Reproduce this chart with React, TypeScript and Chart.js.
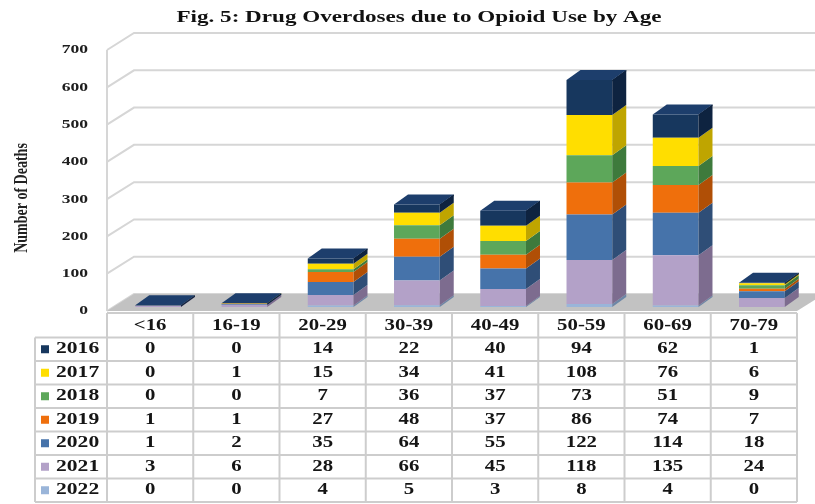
import { useEffect, useRef } from 'react';
import { Chart, registerables } from 'chart.js';

Chart.register(...registerables);

// ---------- data ----------
const CATEGORIES = ['<16', '16-19', '20-29', '30-39', '40-49', '50-59', '60-69', '70-79'];
const YEARS = ['2016', '2017', '2018', '2019', '2020', '2021', '2022'];
const V2016 = [0, 0, 14, 22, 40, 94, 62, 1];
const V2017 = [0, 1, 15, 34, 41, 108, 76, 6];
const V2018 = [0, 0, 7, 36, 37, 73, 51, 9];
const V2019 = [1, 1, 27, 48, 37, 86, 74, 7];
const V2020 = [1, 2, 35, 64, 55, 122, 114, 18];
const V2021 = [3, 6, 28, 66, 45, 118, 135, 24];
const V2022 = [0, 0, 4, 5, 3, 8, 4, 0];
const SERIES = [V2016, V2017, V2018, V2019, V2020, V2021, V2022]; // table row order
const Y_TICKS = [0, 100, 200, 300, 400, 500, 600, 700];
const Y_MAX = 700;
const TITLE = 'Fig. 5: Drug Overdoses due to Opioid Use by Age';
const Y_TITLE = 'Number of Deaths';

// ---------- styles ----------
const FRONT = ['#17375e', '#ffde00', '#5da75a', '#ef6f0c', '#4673aa', '#b3a1c8', '#9ab5d9'];
const SIDE = ['#0e2340', '#bfa500', '#3e7a3c', '#b04f06', '#2f4e77', '#7d6c8f', '#6d86a6'];
const TOP_COLOR = '#1d3e6c';
const FONT = '"Liberation Serif", "Times New Roman", serif';
const W = 815;
const H = 504;

function txt(
  ctx: CanvasRenderingContext2D,
  s: string,
  x: number,
  y: number,
  size: number,
  align: CanvasTextAlign,
  sx: number,
  color = '#151515'
) {
  ctx.save();
  ctx.translate(x, y);
  ctx.scale(sx, 1);
  ctx.font = `bold ${size}px ${FONT}`;
  ctx.fillStyle = color;
  ctx.textAlign = align;
  ctx.textBaseline = 'middle';
  ctx.fillText(s, 0, 0);
  ctx.restore();
}

const DX = 14;
const DY = -10;
const SHIFT_X = 8;
const SHIFT_Y = -4;
const WDX = 27;
const WDY = -17;

const scenePlugin = {
  id: 'scene3d',
  beforeDatasetsDraw(chart: any) {
    const ctx: CanvasRenderingContext2D = chart.ctx;
    const { left: L, right: R } = chart.chartArea;
    const ys = chart.scales.y;
    ctx.save();
    ctx.strokeStyle = '#d6d6d6';
    ctx.lineWidth = 2;
    Y_TICKS.forEach((v) => {
      const y = ys.getPixelForValue(v);
      ctx.beginPath();
      ctx.moveTo(L, y);
      ctx.lineTo(L + WDX, y + WDY);
      ctx.lineTo(W, y + WDY);
      ctx.stroke();
    });
    ctx.beginPath();
    ctx.moveTo(L, ys.getPixelForValue(Y_MAX));
    ctx.lineTo(L, ys.getPixelForValue(0));
    ctx.stroke();
    const y0 = ys.getPixelForValue(0);
    ctx.fillStyle = '#c2c2c2';
    ctx.beginPath();
    ctx.moveTo(L, y0);
    ctx.lineTo(R, y0);
    ctx.lineTo(R + WDX, y0 + WDY);
    ctx.lineTo(L + WDX, y0 + WDY);
    ctx.closePath();
    ctx.fill();
    ctx.restore();
    ctx.save();
    ctx.translate(SHIFT_X, SHIFT_Y);
  },
  afterDatasetsDraw(chart: any) {
    const ctx: CanvasRenderingContext2D = chart.ctx;
    const n = chart.data.datasets.length;
    for (let d = 0; d < n; d++) {
      const meta = chart.getDatasetMeta(d);
      const side = chart.data.datasets[d].sideColor;
      meta.data.forEach((el: any) => {
        const { x, y, base, width } = el.getProps(['x', 'y', 'base', 'width'], true);
        if (base - y <= 0) return;
        const xr = x + width / 2;
        ctx.fillStyle = side;
        ctx.beginPath();
        ctx.moveTo(xr, y);
        ctx.lineTo(xr + DX, y + DY);
        ctx.lineTo(xr + DX, base + DY);
        ctx.lineTo(xr, base);
        ctx.closePath();
        ctx.fill();
      });
    }
    const topMeta = chart.getDatasetMeta(n - 1);
    topMeta.data.forEach((el: any) => {
      const { x, y, width } = el.getProps(['x', 'y', 'width'], true);
      const xl = x - width / 2;
      const xr = x + width / 2;
      ctx.fillStyle = TOP_COLOR;
      ctx.beginPath();
      ctx.moveTo(xl, y);
      ctx.lineTo(xr, y);
      ctx.lineTo(xr + DX, y + DY);
      ctx.lineTo(xl + DX, y + DY);
      ctx.closePath();
      ctx.fill();
      ctx.fillStyle = SIDE[0];
      ctx.beginPath();
      ctx.moveTo(xr, y);
      ctx.lineTo(xr + DX, y + DY);
      ctx.lineTo(xr + DX, y + DY + 1.5);
      ctx.lineTo(xr, y + 1.5);
      ctx.closePath();
      ctx.fill();
    });
    ctx.restore();
  },
  afterDraw(chart: any) {
    const ctx: CanvasRenderingContext2D = chart.ctx;
    const { left: L, right: R } = chart.chartArea;
    const ys = chart.scales.y;
    const xs = chart.scales.x;

    txt(ctx, TITLE, 419, 17, 17.5, 'center', 1.32, '#111');

    Y_TICKS.forEach((v) => {
      txt(ctx, String(v), 88, ys.getPixelForValue(v), 13.5, 'right', 1.3, '#1e1e1e');
    });

    ctx.save();
    ctx.translate(22, 198);
    ctx.rotate(-Math.PI / 2);
    ctx.scale(1, 1.35);
    ctx.font = `bold 14px ${FONT}`;
    ctx.fillStyle = '#222';
    ctx.textAlign = 'center';
    ctx.textBaseline = 'middle';
    ctx.fillText(Y_TITLE, 0, 0);
    ctx.restore();

    const TOP = 313;
    const HEAD_H = 24.5;
    const ROW_H = 23.5;
    const LEG_L = 35;
    const colW = (R - L) / CATEGORIES.length;
    const bottom = TOP + HEAD_H + ROW_H * YEARS.length;
    ctx.save();
    ctx.strokeStyle = '#cdcdcd';
    ctx.lineWidth = 2;
    ctx.beginPath();
    ctx.moveTo(L, TOP);
    ctx.lineTo(R, TOP);
    for (let k = 0; k <= YEARS.length; k++) {
      const y = TOP + HEAD_H + k * ROW_H;
      ctx.moveTo(LEG_L, y);
      ctx.lineTo(R, y);
    }
    for (let i = 0; i <= CATEGORIES.length; i++) {
      const x = L + i * colW;
      ctx.moveTo(x, TOP);
      ctx.lineTo(x, bottom);
    }
    ctx.moveTo(LEG_L, TOP + HEAD_H);
    ctx.lineTo(LEG_L, bottom);
    ctx.stroke();
    ctx.restore();

    CATEGORIES.forEach((c, i) => {
      txt(ctx, c, xs.getPixelForValue(i), TOP + HEAD_H / 2 + 1, 16, 'center', 1.3);
    });
    YEARS.forEach((yr, r) => {
      const yc = TOP + HEAD_H + r * ROW_H + ROW_H / 2;
      ctx.fillStyle = FRONT[r];
      ctx.fillRect(41, yc - 4, 8, 8);
      txt(ctx, yr, 56, yc, 16, 'left', 1.35);
      SERIES[r].forEach((v, i) => {
        txt(ctx, String(v), xs.getPixelForValue(i), yc, 16, 'center', 1.3);
      });
    });
  },
};

export default function App() {
  const ref = useRef<HTMLCanvasElement | null>(null);
  useEffect(() => {
    document.body.style.margin = '0';
    const canvas = ref.current;
    if (!canvas) return;
    const order = [6, 5, 4, 3, 2, 1, 0];
    const datasets = order.map((r) => ({
      label: YEARS[r],
      data: SERIES[r],
      backgroundColor: FRONT[r],
      sideColor: SIDE[r],
      borderWidth: 0,
      barPercentage: 0.53,
      categoryPercentage: 1,
      clip: false as any,
    }));
    const chart = new Chart(canvas, {
      type: 'bar',
      data: { labels: CATEGORIES, datasets: datasets as any },
      options: {
        animation: false,
        responsive: true,
        maintainAspectRatio: false,
        layout: { padding: { left: 107, right: W - 797, top: 50, bottom: H - 311 } },
        plugins: { legend: { display: false }, tooltip: { enabled: false }, title: { display: false } },
        scales: {
          x: { stacked: true, display: false },
          y: { stacked: true, display: false, min: 0, max: Y_MAX },
        },
      },
      plugins: [scenePlugin as any],
    });
    return () => chart.destroy();
  }, []);
  return (
    <div style={{ width: W, height: H, position: 'relative', background: '#fff' }}>
      <canvas ref={ref} />
    </div>
  );
}
